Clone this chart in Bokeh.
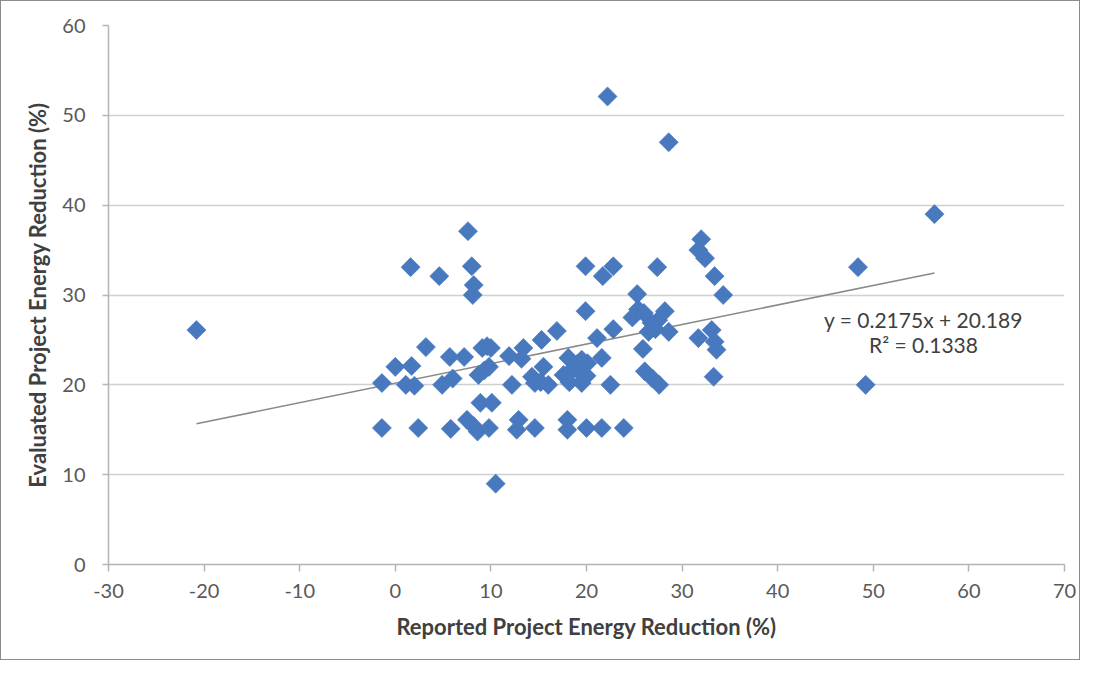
import numpy as np
from bokeh.plotting import figure
from bokeh.models import Range1d, FixedTicker, Label
from bokeh.embed import file_html
from bokeh.resources import INLINE

# Data
reported = [
    -20.8, -1.4, -1.4, 0.0, 1.1, 1.7, 2.0, 1.6, 2.4, 3.2,
    4.6, 4.9, 6.0, 5.7, 7.2, 5.8, 7.5, 8.2, 8.6, 7.6,
    8.0, 8.2, 8.1, 8.7, 9.3, 8.9, 10.1, 9.1, 9.6, 10.0,
    9.8, 9.8, 10.5, 11.9, 13.2, 12.2, 12.9, 12.7, 13.4, 14.3,
    14.6, 14.6, 15.3, 15.5, 16.0, 15.2, 16.9, 17.6, 18.1, 19.5,
    18.5, 19.5, 19.0, 20.0, 18.2, 19.2, 20.1, 18.0, 18.0, 20.0,
    19.9, 21.7, 22.8, 19.9, 21.1, 21.6, 22.5, 21.6, 22.8, 23.9,
    22.2, 28.6, 25.3, 24.8, 25.4, 26.8, 28.2, 28.6, 26.5, 27.5,
    26.0, 27.2, 25.9, 26.1, 26.9, 27.6, 27.4, 31.7, 32.0, 32.4,
    33.4, 34.3, 31.7, 33.1, 33.4, 33.6, 33.3, 48.4, 49.2, 56.4,
]
evaluated = [
    26.1, 20.2, 15.2, 22.0, 20.0, 22.1, 19.9, 33.1, 15.2, 24.2,
    32.1, 20.0, 20.7, 23.1, 23.1, 15.1, 16.1, 15.4, 14.8, 37.1,
    33.2, 31.1, 30.0, 21.1, 21.6, 18.0, 18.0, 24.1, 24.3, 24.1,
    22.0, 15.2, 9.0, 23.2, 22.9, 20.0, 16.1, 15.0, 24.1, 20.9,
    20.2, 15.2, 25.0, 22.0, 20.0, 20.3, 26.0, 21.1, 23.0, 22.8,
    21.7, 20.2, 22.3, 21.0, 20.3, 21.5, 22.4, 16.1, 15.0, 15.2,
    33.2, 32.1, 33.2, 28.2, 25.2, 23.0, 20.0, 15.2, 26.2, 15.2,
    52.1, 47.0, 30.1, 27.5, 28.4, 26.9, 28.2, 25.9, 25.9, 27.2,
    28.0, 26.2, 24.0, 21.5, 20.7, 20.0, 33.1, 35.0, 36.2, 34.1,
    32.1, 30.0, 25.2, 26.1, 24.8, 23.9, 20.9, 33.1, 20.0, 39.0,
]

trend_slope = 0.2175
trend_intercept = 20.189
equation_text = "y = 0.2175x + 20.189"
r2_text = "R\u00b2 = 0.1338"

x_ticks = [-30, -20, -10, 0, 10, 20, 30, 40, 50, 60, 70]
x_tick_labels = ["-30", "-20", "-10", "0", "10", "20", "30", "40", "50", "60", "70"]
y_ticks = [0, 10, 20, 30, 40, 50, 60]
y_tick_labels = ["0", "10", "20", "30", "40", "50", "60"]

FONT = "Lato"
GREY_TXT = "#595959"
TITLE_TXT = "#404040"

p = figure(width=1080, height=660, output_backend="svg", toolbar_location=None,
           x_range=Range1d(-30, 70), y_range=Range1d(0, 60),
           min_border_left=107, min_border_right=17,
           min_border_top=24, min_border_bottom=97)
p.styles = {"border": "1px solid #8c8c8c"}
p.outline_line_color = None
p.background_fill_color = "white"
p.border_fill_color = "white"

p.xgrid.visible = False
p.ygrid.grid_line_color = "#d0d0d0"
p.ygrid.grid_line_width = 1.5
p.ygrid.ticker = FixedTicker(ticks=y_ticks)

for ax in (p.xaxis[0], p.yaxis[0]):
    ax.axis_line_color = "#b4b4b4"
    ax.axis_line_width = 1.5
    ax.major_tick_line_color = "#b4b4b4"
    ax.major_tick_line_width = 1.5
    ax.major_tick_in = 0
    ax.minor_tick_line_color = None
    ax.major_label_text_font = FONT
    ax.major_label_text_font_size = "20px"
    ax.major_label_text_color = GREY_TXT
    ax.axis_label_text_font = FONT
    ax.axis_label_text_font_style = "bold"
    ax.axis_label_text_font_size = "22px"
    ax.axis_label_text_color = TITLE_TXT

p.xaxis.ticker = FixedTicker(ticks=x_ticks)
p.xaxis.major_label_overrides = {t: l for t, l in zip(x_ticks, x_tick_labels)}
p.xaxis.major_tick_out = 7
p.xaxis.major_label_standoff = 12
p.xaxis.axis_label = "Reported Project Energy Reduction (%)"
p.xaxis.axis_label_standoff = 12

p.yaxis.ticker = FixedTicker(ticks=y_ticks)
p.yaxis.major_label_overrides = {t: l for t, l in zip(y_ticks, y_tick_labels)}
p.yaxis.major_tick_out = 6
p.yaxis.major_label_standoff = 17
p.yaxis.axis_label = "Evaluated Project Energy Reduction (%)"
p.yaxis.axis_label_standoff = 8

# trend line over the data's x extent
x0, x1 = min(reported), max(reported)
p.line([x0, x1], [trend_slope * x0 + trend_intercept, trend_slope * x1 + trend_intercept],
       line_color="#8a8a8a", line_width=1.6)

p.scatter(reported, evaluated, marker="square", angle=np.pi / 4, size=13.5,
          fill_color="#4878be", line_color="#4878be", line_width=0.6)

p.add_layout(Label(x=55.25, y=27.3, text=equation_text, text_align="center",
                   text_baseline="middle", text_font=FONT, text_font_size="21px",
                   text_color=TITLE_TXT))
p.add_layout(Label(x=55.25, y=24.5, text=r2_text, text_align="center",
                   text_baseline="middle", text_font=FONT, text_font_size="21px",
                   text_color=TITLE_TXT))

open("out.html", "w").write(file_html(p, INLINE))
